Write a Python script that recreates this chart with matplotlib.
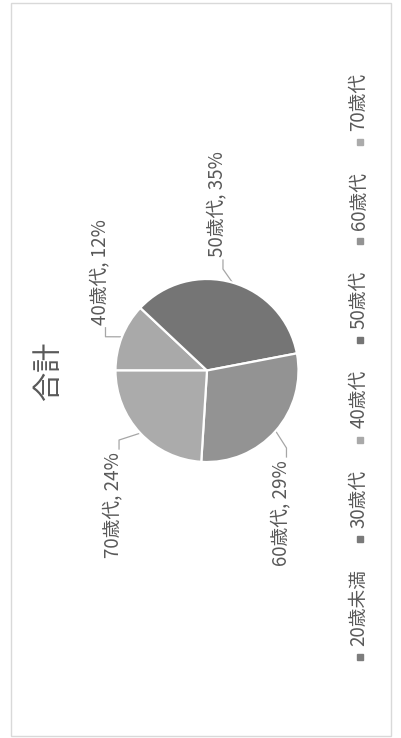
import numpy as np
import matplotlib
matplotlib.use('Agg')
import matplotlib.pyplot as plt
from matplotlib.patches import Rectangle

plt.rcParams['font.family'] = ['Noto Sans CJK JP', 'DejaVu Sans']

# データ
categories = ['20歳未満', '30歳代', '40歳代', '50歳代', '60歳代', '70歳代']
values = [0, 0, 12, 35, 29, 24]
colors = ['#7d7d7d', '#7a7a7a', '#a9a9a9', '#757575', '#939393', '#ababab']
title = '合計'

text_color = '#595959'
W, H = 402, 738
fig = plt.figure(figsize=(W / 100, H / 100), dpi=100)

# 全体を覆う座標系（ピクセル単位）
bg = fig.add_axes([0, 0, 1, 1])
bg.set_xlim(0, W)
bg.set_ylim(H, 0)
bg.axis('off')
bg.add_patch(Rectangle((11, 3), 380, 733, fill=False, edgecolor='#d9d9d9', linewidth=1))

# 円グラフ（90度回転したレイアウト）
cx, cy, R = 207, 370.5, 91.5
pax = fig.add_axes([(cx - R) / W, (H - cy - R) / H, 2 * R / W, 2 * R / H])
pax.pie(values, colors=colors, startangle=180, counterclock=False,
        wedgeprops=dict(edgecolor='white', linewidth=1.6))
pax.set_xlim(-1, 1)
pax.set_ylim(-1, 1)
pax.axis('off')

# タイトル
bg.text(49, cy, title, rotation=90, ha='center', va='center',
        fontsize=21, color=text_color)

# データラベル（引き出し線付き）
label_pos = {'40歳代': (-1.175, 0.50), '50歳代': (0.109, 1.24),
             '60歳代': (0.803, -0.978), '70歳代': (-1.027, -0.891)}
total = sum(values)
ends = 180 - np.cumsum(values) / total * 360
starts = ends + np.array(values) / total * 360
for cat, v, a0, a1 in zip(categories, values, starts, ends):
    if v == 0:
        continue
    mid = np.deg2rad((a0 + a1) / 2)
    ex, ey = cx + R * np.cos(mid), cy - R * np.sin(mid)
    u, w = label_pos[cat]
    tx, ty = cx + R * u, cy - R * w
    up = w > 0
    lx = tx + 6
    ly = ty + (3 if up else -3)
    ky = ly + (9 if up else -9)
    bg.plot([ex, lx, lx], [ey, ky, ly], color='#a6a6a6', linewidth=0.9)
    bg.text(tx, ty, f'{cat}, {v / total * 100:.0f}%', rotation=90,
            rotation_mode='anchor', ha='left' if up else 'right', va='center',
            fontsize=13.5, color=text_color)

# 凡例（回転）
fig.canvas.draw()
renderer = fig.canvas.get_renderer()
leg_x = 359
texts = [bg.text(leg_x, 0, c, rotation=90, rotation_mode='anchor', ha='left',
                 va='center', fontsize=13.5, color=text_color) for c in categories]
widths = [t.get_window_extent(renderer).height for t in texts]
gap_mt, gap_item, half = 11, 30, 3.5
length = half + sum(gap_mt + w for w in widths) + gap_item * (len(categories) - 1)
y = cy - 4 + length / 2 - half
for t, w, c in zip(texts, widths, colors):
    bg.plot(leg_x + 1, y, marker='s', markersize=5, color=c, linestyle='none')
    t.set_position((leg_x, y - gap_mt))
    y -= gap_mt + w + gap_item

fig.savefig('out.png', dpi=100, facecolor='white')
